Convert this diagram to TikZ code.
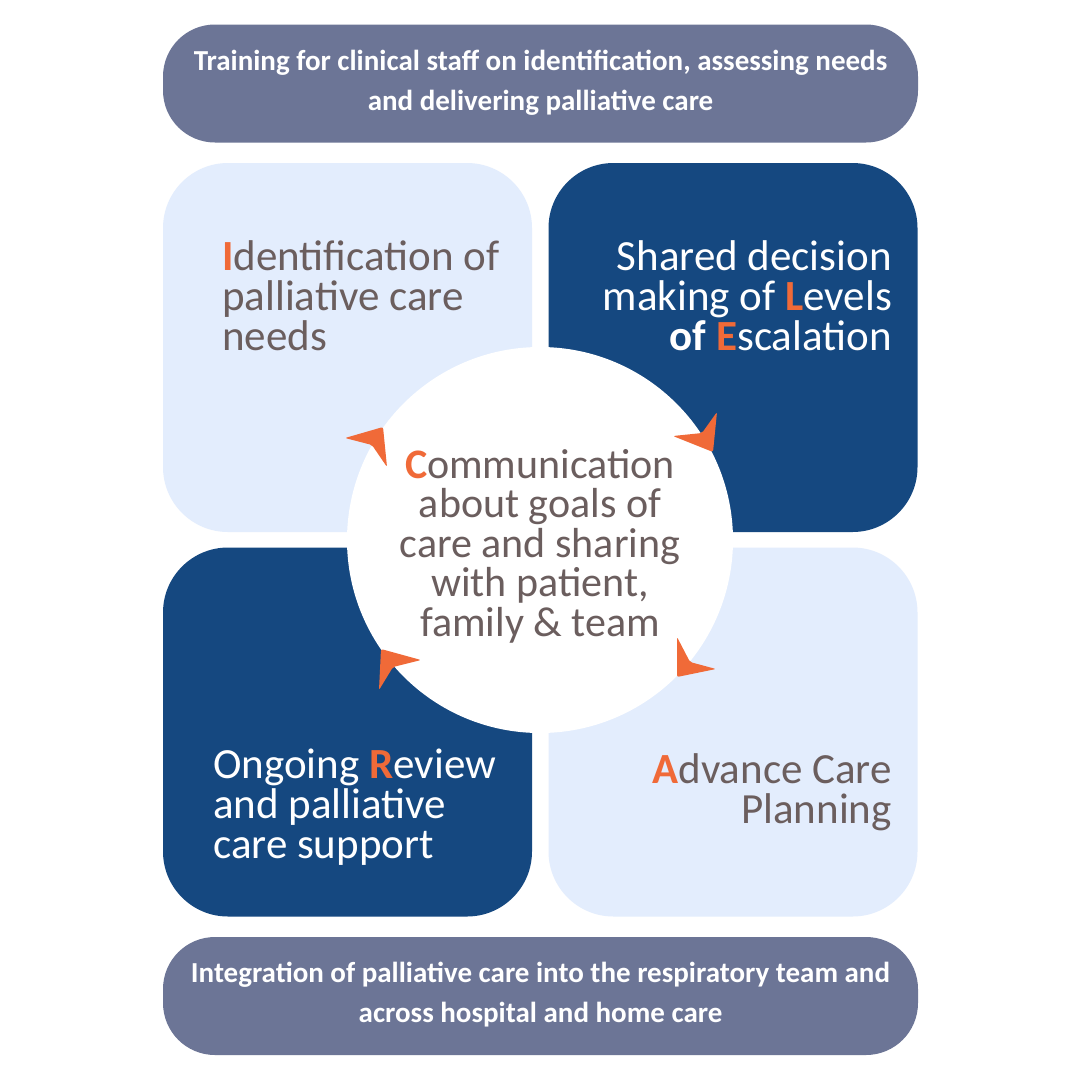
\documentclass[tikz,border=0pt]{standalone}
\usepackage{fontspec}
\setmainfont{Carlito}
\definecolor{slate}{HTML}{6C7596}
\definecolor{darkblue}{HTML}{154880}
\definecolor{lightblue}{HTML}{E3EDFD}
\definecolor{taupe}{HTML}{6B5E5E}
\definecolor{accent}{HTML}{F06A38}
\newcommand{\hl}[1]{{\bfseries\color{accent}#1}}
\tikzset{
  quad/.style={minimum width=369pt, minimum height=369pt, rounded corners=65pt, inner sep=0pt, draw=none},
  banner/.style={fill=slate, minimum width=755pt, minimum height=118pt, rounded corners=52pt, inner sep=0pt,
    text=white, align=center, font=\fontsize{29}{40}\selectfont\bfseries},
  bigtext/.style={inner sep=0pt, font=\fontsize{43}{40}\selectfont},
  turn/.style={fill=accent, rounded corners=2pt}
}
\begin{document}
\begin{tikzpicture}[x=1pt,y=-1pt]
\fill[white] (0,0) rectangle (1080,1080);
\useasboundingbox (0,0) rectangle (1080,1080);
% banners
\node[banner] (top) at (540.5,83.5) {};
\node[banner, fill=none, anchor=base] (toptext) at (540.5,110) {Training for clinical staff on identification, assessing needs\\and delivering palliative care};
\node[banner] (bottom) at (540.5,996) {};
\node[banner, fill=none, anchor=base] (bottomtext) at (540.5,1022) {Integration of palliative care into the respiratory team and\\across hospital and home care};
% quadrants
\node[quad, fill=lightblue] (tl) at (347.5,347.5) {};
\node[quad, fill=darkblue] (tr) at (733,347.5) {};
\node[quad, fill=darkblue] (bl) at (347.5,732) {};
\node[quad, fill=lightblue] (br) at (733,732) {};
% centre circle
\node[circle, fill=white, minimum size=386pt, inner sep=0pt] (hub) at (540,540) {};
% quadrant texts (base anchor = baseline of last line)
\node[bigtext, text=taupe, align=left, anchor=base west] (ttl) at (222,350)
  {\hl{I}dentification of\\palliative care\\needs};
\node[bigtext, text=white, align=right, anchor=base east] (ttr) at (892,350)
  {Shared decision\\making of \hl{L}evels\\{\bfseries of }\hl{E}scalation};
\node[bigtext, text=white, align=left, anchor=base west] (tbl) at (213,858)
  {Ongoing \hl{R}eview\\and palliative\\care support};
\node[bigtext, text=taupe, align=right, anchor=base east] (tbr) at (892,823)
  {\hl{A}dvance Care\\Planning};
\node[bigtext, text=taupe, align=center, anchor=base, font=\fontsize{42}{39.5}\selectfont] (thub) at (540,636)
  {\hl{C}ommunication\\about goals of\\care and sharing\\with patient,\\family \& team};
% clockwise arrow heads
\fill[turn] (345,438) -- (383,427) -- (387,467) -- (372,445) -- cycle;
\fill[turn] (673,436) -- (702,433) -- (717,412) -- (713,452) -- cycle;
\fill[turn] (677,637) -- (677,677) -- (716,669) -- (690,662) -- cycle;
\fill[turn] (381,649) -- (421,660) -- (393,667) -- (379,690) -- cycle;
\end{tikzpicture}
\end{document}
